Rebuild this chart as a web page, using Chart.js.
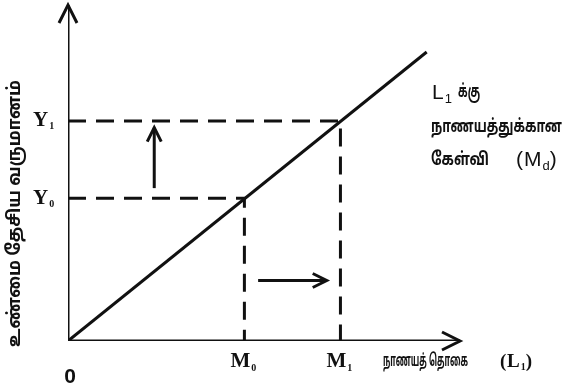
<!DOCTYPE html>
<html><head><meta charset="utf-8">
<script src="https://cdn.jsdelivr.net/npm/chart.js@4/dist/chart.umd.min.js"></script>
<style>html,body{margin:0;padding:0;background:#fff}canvas{display:block;background:#fff}</style>
</head><body><canvas id="c" width="586" height="392"></canvas>
<script>
// ---- data ----
const xTickValues = [4.5, 6.95];
const xTickLabels = [['M', '0'], ['M', '1']];
const yTickValues = [4.25, 6.55];
const yTickLabels = [['Y', '0'], ['Y', '1']];
const originLabel = '0';
const demandX = [0, 9.15];
const demandY = [0, 8.6];
const axisMaxX = 10;
const axisMaxY = 10;
const upArrowX = [2.2, 2.2];
const upArrowY = [4.55, 6.35];
const rightArrowX = [4.85, 6.6];
const rightArrowY = [1.8, 1.8];
const yTitle = 'உண்மை தேசிய வருமானம்';
const xTitle = 'நாணயத் தொகை';
const xTitleSym = ['L', '1'];
const curveLabel1 = ['L', '1', 'க்கு'];
const curveLabel2 = 'நாணயத்துக்கான';
const curveLabel3 = ['கேள்வி', 'M', 'd'];

const pts = (xs, ys) => xs.map((x, i) => ({x, y: ys[i]}));
const INK = '#111';

const datasets = [
  {data: [{x: 0, y: axisMaxY}, {x: 0, y: 0}, {x: axisMaxX, y: 0}], borderWidth: 3, arrowStart: true, arrowEnd: true, head: [18, 9]},
  {data: pts(demandX, demandY), borderWidth: 3},
  {data: [{x: 0, y: yTickValues[0]}, {x: xTickValues[0], y: yTickValues[0]}, {x: xTickValues[0], y: 0}], borderWidth: 3, borderDash: [18, 10]},
  {data: [{x: 0, y: yTickValues[1]}, {x: xTickValues[1], y: yTickValues[1]}, {x: xTickValues[1], y: 0}], borderWidth: 3, borderDash: [18, 10]},
  {data: pts(upArrowX, upArrowY), borderWidth: 3, arrowEnd: true, head: [14, 7]},
  {data: pts(rightArrowX, rightArrowY), borderWidth: 3, arrowEnd: true, head: [14, 7]}
].map(d => Object.assign({borderColor: INK, pointRadius: 0, tension: 0, fill: false}, d));

function head(ctx, tip, from, len, half) {
  const dx = tip.x - from.x, dy = tip.y - from.y;
  const L = Math.hypot(dx, dy); const ux = dx / L, uy = dy / L;
  const bx = tip.x - ux * len, by = tip.y - uy * len;
  ctx.beginPath();
  ctx.moveTo(bx - uy * half, by + ux * half);
  ctx.lineTo(tip.x, tip.y);
  ctx.lineTo(bx + uy * half, by - ux * half);
  ctx.stroke();
}
function subText(ctx, base, sub, x, y, font, subFont, dy) {
  ctx.font = font; ctx.textBaseline = 'middle'; ctx.textAlign = 'left';
  ctx.fillText(base, x, y);
  const w = ctx.measureText(base).width;
  ctx.font = subFont; ctx.fillText(sub, x + w + 1, y + dy);
  return x + w + 1 + ctx.measureText(sub).width;
}
function fitText(ctx, text, x, y, width, font) {
  ctx.save();
  ctx.font = font; ctx.textBaseline = 'middle'; ctx.textAlign = 'left';
  const w = ctx.measureText(text).width;
  ctx.translate(x, y); ctx.scale(width / w, 1);
  ctx.fillText(text, 0, 0);
  ctx.restore();
}
const TAM = '"Noto Sans Tamil", "Noto Sans", sans-serif';

const decor = {
  id: 'decor',
  afterDatasetsDraw(chart) {
    const ctx = chart.ctx, xs = chart.scales.x, ys = chart.scales.y;
    ctx.save();
    ctx.strokeStyle = INK; ctx.fillStyle = INK; ctx.lineWidth = 3;
    ctx.lineJoin = 'miter'; ctx.setLineDash([]);
    chart.data.datasets.forEach((ds, i) => {
      const p = chart.getDatasetMeta(i).data;
      if (ds.arrowEnd) head(ctx, p[p.length - 1], p[p.length - 2], ds.head[0], ds.head[1]);
      if (ds.arrowStart) head(ctx, p[0], p[1], ds.head[0], ds.head[1]);
    });
    const serifB = 'bold 21px "Liberation Serif"', serifSub = 'bold 10px "Liberation Serif"';
    yTickValues.forEach((v, i) => {
      subText(ctx, yTickLabels[i][0], yTickLabels[i][1], 33, ys.getPixelForValue(v), serifB, serifSub, 6);
    });
    xTickValues.forEach((v, i) => {
      subText(ctx, xTickLabels[i][0], xTickLabels[i][1], xs.getPixelForValue(v) - 14, 362, serifB, serifSub, 6);
    });
    ctx.font = 'bold 21px "Liberation Sans"'; ctx.textAlign = 'center'; ctx.textBaseline = 'middle';
    ctx.fillText(originLabel, xs.getPixelForValue(0) + 2, 377);
    // x title
    fitText(ctx, xTitle, 383, 363, 85, 'bold 17px ' + TAM);
    ctx.font = 'bold 19px "Liberation Serif"'; ctx.textAlign = 'left'; ctx.fillText('(', 500, 362);
    let e = subText(ctx, xTitleSym[0], xTitleSym[1], 507, 362, 'bold 19px "Liberation Serif"', serifSub, 5);
    ctx.font = 'bold 19px "Liberation Serif"'; ctx.fillText(')', e, 362);
    // y title
    ctx.save();
    ctx.translate(16, 347); ctx.rotate(-Math.PI / 2);
    fitText(ctx, yTitle, 0, 0, 267, 'bold 18px ' + TAM);
    ctx.restore();
    // curve label
    const sans = '21px "Liberation Sans Narrow", "Liberation Sans"', sansSub = '13px "Liberation Sans"', tam = 'bold 18px ' + TAM;
    e = subText(ctx, curveLabel1[0], curveLabel1[1], 432, 93, sans, sansSub, 6);
    fitText(ctx, curveLabel1[2], 458, 93, 22, tam);
    fitText(ctx, curveLabel2, 431, 128, 131, tam);
    fitText(ctx, curveLabel3[0], 431, 161, 58, tam);
    ctx.font = sans; ctx.textAlign = 'left'; ctx.fillText('(', 516, 160);
    e = subText(ctx, curveLabel3[1], curveLabel3[2], 524, 160, sans, sansSub, 6);
    ctx.font = sans; ctx.fillText(')', e, 160);
    ctx.restore();
  }
};

new Chart(document.getElementById('c'), {
  type: 'line',
  data: {datasets},
  options: {
    responsive: false, animation: false, parsing: true,
    layout: {padding: {left: 68, right: 126, top: 5, bottom: 51}},
    plugins: {legend: {display: false}, tooltip: {enabled: false}},
    scales: {
      x: {type: 'linear', min: 0, max: axisMaxX, display: false},
      y: {type: 'linear', min: 0, max: axisMaxY, display: false}
    }
  },
  plugins: [decor]
});
</script></body></html>
